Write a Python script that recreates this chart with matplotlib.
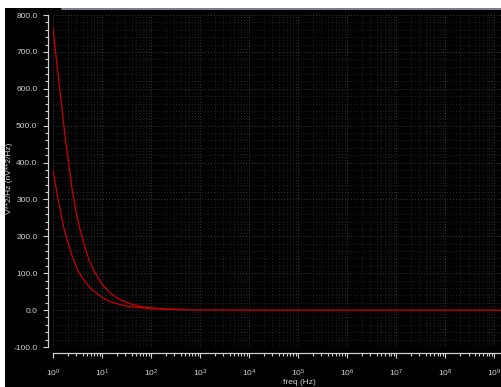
import matplotlib
matplotlib.use("Agg")
import matplotlib.pyplot as plt
from matplotlib.patches import Rectangle
from matplotlib.lines import Line2D
from matplotlib.ticker import MultipleLocator, LogLocator, FixedLocator, FormatStrFormatter, NullFormatter

plt.rcParams['font.family'] = ['Liberation Sans', 'DejaVu Sans']
plt.rcParams['mathtext.default'] = 'regular'

# noise curves (freq in Hz, value in nV**2/Hz)
freq_a = [1, 1.15, 1.4, 1.75, 2.1, 2.5, 3, 3.5, 4.5, 5.5, 7, 10, 15, 20, 30, 40, 60, 100, 200, 480]
noise_a = [766, 690, 590, 475, 395, 320, 262, 222, 170, 134, 104, 70, 45, 33, 22, 16, 10, 6, 3, 1.5]

freq_b = [1, 1.28, 1.68, 2.4, 3.3, 4.5, 6.2, 10, 16, 35, 100, 300, 1e3, 1e4, 1e5, 1e6, 1e7, 1e8, 1e9, 1.4e9]
noise_b = [378, 299, 220, 150, 104, 77, 56, 34, 21, 9.5, 4, 1.3, 0.4, 0.05, 0, 0, 0, 0, 0, 0]

decades = [1e0, 1e1, 1e2, 1e3, 1e4, 1e5, 1e6, 1e7, 1e8, 1e9]
y_min, y_max = -100, 800

W, H = 501, 387
fig = plt.figure(figsize=(W / 100, H / 100), dpi=100, facecolor='black')
ax = fig.add_axes([53 / W, 1 - 347 / H, (W - 53) / W, (347 - 15) / H])
ax.set_facecolor('black')

fg = '#d0d0d0'
line_red = '#cc0000'

ax.plot(freq_b, noise_b, color=line_red, lw=0.9, zorder=3)
ax.plot(freq_a, noise_a, color=line_red, lw=0.9, zorder=3)

ax.set_xscale('log')
ax.set_xlim(1, 10 ** 9.14)
ax.set_ylim(y_min, y_max)

ax.yaxis.set_major_locator(MultipleLocator(100))
ax.yaxis.set_minor_locator(MultipleLocator(20))
ax.yaxis.set_major_formatter(FormatStrFormatter('%.1f'))
ax.xaxis.set_major_locator(FixedLocator(decades))
ax.xaxis.set_minor_locator(LogLocator(base=10, subs=range(2, 10), numticks=200))
ax.xaxis.set_minor_formatter(NullFormatter())

# dotted grid like the viewer
ax.grid(which='major', color='#3c3c3c', linestyle=(0, (1, 2)), linewidth=0.7)
ax.grid(which='minor', color='#242424', linestyle=(0, (1, 2)), linewidth=0.7)
ax.set_axisbelow(True)

for s in ['top', 'right']:
    ax.spines[s].set_visible(False)
ax.spines['left'].set_position(('outward', 3.6))
ax.spines['bottom'].set_position(('outward', 4.3))
for s in ['left', 'bottom']:
    ax.spines[s].set_color(fg)
    ax.spines[s].set_linewidth(0.9)

ax.tick_params(which='both', colors=fg, direction='out', width=0.8, labelsize=6)
ax.tick_params(which='major', length=3.6)
ax.tick_params(which='minor', length=2.2)
ax.tick_params(axis='y', pad=4)
ax.tick_params(axis='x', pad=7)

fig.text(10 / W, 1 - 178 / H, 'V**2/Hz (nV**2/Hz)', rotation=90, color=fg,
         fontsize=6, ha='center', va='center')
fig.text(299 / W, 1 - 382 / H, 'freq (Hz)', color=fg, fontsize=6,
         ha='center', va='center')

# window frame bits: white strip on top and on the left edge
fig.patches.append(Rectangle((0, 1 - 8 / H), 1, 8 / H, transform=fig.transFigure,
                             facecolor='white', edgecolor='none'))
fig.patches.append(Rectangle((0, 0), 5 / W, 1, transform=fig.transFigure,
                             facecolor='white', edgecolor='none'))
fig.lines.append(Line2D([62 / W, 1], [1 - 8.5 / H, 1 - 8.5 / H], transform=fig.transFigure,
                        color='#8a9aae', lw=1.2))

fig.savefig('out.png', dpi=100, facecolor='black')
